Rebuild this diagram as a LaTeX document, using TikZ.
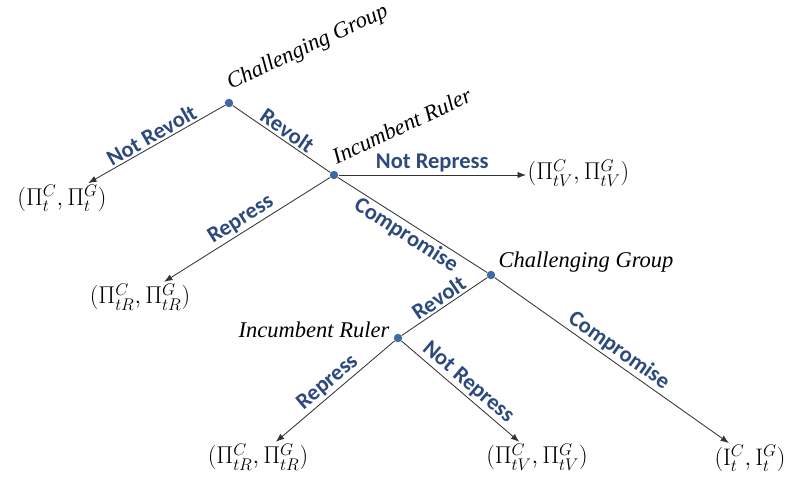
\documentclass[tikz,border=0pt]{standalone}
\usepackage{amsmath}
\usepackage{fontspec}
\usepackage{tikz}
\usepackage{xcolor}
\usetikzlibrary{positioning, arrows.meta}
\newfontfamily\movefont{Carlito}
\newfontfamily\playerfont{Liberation Serif}
\definecolor{moveblue}{RGB}{44,74,125}
\definecolor{dotblue}{RGB}{62,104,166}

\begin{document}
\begin{tikzpicture}[
  x=0.025cm, y=-0.025cm,
  >={Latex[length=6pt,width=4.5pt]},
  every node/.style={font=\small},
  move/.style={font=\movefont\bfseries\fontsize{16}{16}\selectfont, text=moveblue, sloped, inner sep=1.5pt},
  player/.style={font=\playerfont\itshape\fontsize{16}{16}\selectfont, inner sep=1pt},
  payoff/.style={font=\fontsize{17}{17}\selectfont, inner sep=1pt},
  decision/.style={circle, fill=dotblue, inner sep=0pt, minimum size=6pt},
  branch/.style={draw=black!80, line width=0.6pt}
]
\useasboundingbox (0,0) rectangle (793,476);

% Decision nodes
\node[decision] (cg1) at (229,103) {};
\node[decision] (ir1) at (334,175) {};
\node[decision] (cg2) at (491,275) {};
\node[decision] (ir2) at (398,338) {};

% Player names
\node[player, rotate=25, anchor=south west] at (232,96) {Challenging Group};
\node[player, rotate=25, anchor=south west] at (336,167) {Incumbent Ruler};
\node[player, anchor=west] at (497,262) {Challenging Group};
\node[player, anchor=east] at (391,330) {Incumbent Ruler};

% Outcomes
\node[payoff] (nr) at (62,198) {$(\Pi^{C}_{t},\Pi^{G}_{t})$};
\node[payoff, anchor=west] (nrep1) at (526,173) {$(\Pi^{C}_{tV},\Pi^{G}_{tV})$};
\node[payoff] (rep1) at (140,297) {$(\Pi^{C}_{tR},\Pi^{G}_{tR})$};
\node[payoff] (rep2) at (258,457) {$(\Pi^{C}_{tR},\Pi^{G}_{tR})$};
\node[payoff] (nrep2) at (537,457) {$(\Pi^{C}_{tV},\Pi^{G}_{tV})$};
\node[payoff] (comp) at (750,458) {$(\mathrm{I}^{C}_{t},\mathrm{I}^{G}_{t})$};

% First stage
\draw[branch, ->] (cg1) -- node[move, above] {Not Revolt} (nr);
\draw[branch] (cg1) -- node[move, above] {Revolt} (ir1);
\draw[branch, ->] (ir1) -- node[move, above] {Not Repress} (ir1 -| nrep1.west);
\draw[branch, ->] (ir1) -- node[move, above] {Repress} (rep1);
\draw[branch] (ir1) -- node[move, below] {Compromise} (cg2);

% Second stage
\draw[branch, ->] (cg2) -- node[move, above] {Compromise} (comp);
\draw[branch] (cg2) -- node[move, above] {Revolt} (ir2);
\draw[branch, ->] (ir2) -- node[move, above] {Repress} (rep2);
\draw[branch, ->] (ir2) -- node[move, above] {Not Repress} (nrep2);

\end{tikzpicture}
\end{document}
